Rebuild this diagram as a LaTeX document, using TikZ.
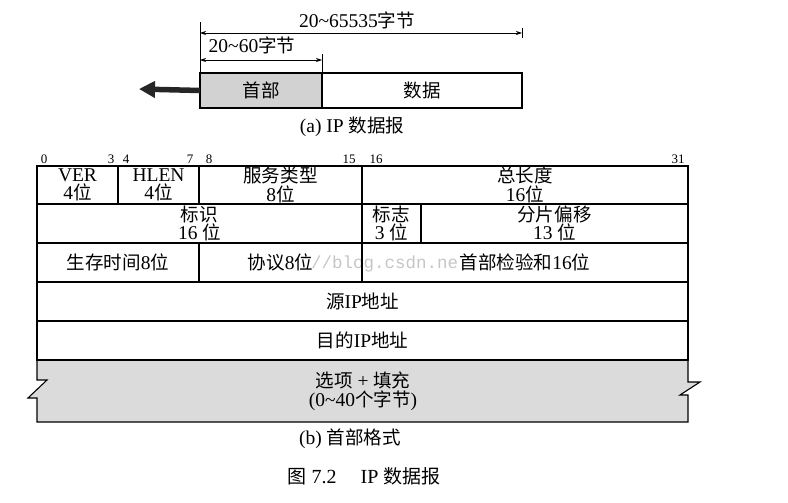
\documentclass[tikz,border=0pt]{standalone}
\usepackage{fontspec}
\setmainfont{Liberation Serif}
\newfontfamily\cjk[Scale=0.95]{Noto Sans CJK SC}
\newfontfamily\wmfont{Liberation Mono}
\usetikzlibrary{arrows.meta}
\newcommand\zhc[1]{{\cjk #1}}
\begin{document}
\begin{tikzpicture}[x=1pt,y=-1pt,
  field/.style={draw, line width=1.1pt, inner sep=0pt, outer sep=0pt, align=center,
    font=\fontsize{19.5}{18.5}\selectfont},
  txt/.style={inner sep=0pt, align=center, font=\fontsize{19.5}{19}\selectfont},
  bitlbl/.style={inner sep=0pt, anchor=base, font=\fontsize{13}{13}\selectfont},
  dim/.style={line width=0.7pt, {Stealth[length=6pt,width=4pt]}-{Stealth[length=6pt,width=4pt]}},
  tick/.style={line width=0.7pt},
  edge/.style={line width=1.1pt}]
\useasboundingbox (0,0) rectangle (788,503);

% ---------- (a) IP datagram ----------
\node[field, fill=gray!35, minimum width=122pt, minimum height=35pt, anchor=north west] (hdr) at (200,73) {\zhc{首部}};
\node[field, minimum width=200pt, minimum height=35pt, anchor=north west] (data) at (322,73) {\zhc{数据}};
\coordinate (arrtip) at (139,89);
\draw[line width=5.5pt, black!85, -{Triangle[length=16pt,width=16pt]}] (hdr.west) -- (arrtip);

\coordinate (tA) at (200,22);
\coordinate (tB1) at (522,28);
\coordinate (tB2) at (522,38);
\coordinate (tC) at (322,54);
\draw[tick] (hdr.north west) -- (tA);
\draw[tick] (tB1) -- (tB2);
\draw[tick] (hdr.north east) -- (tC);
\coordinate (d1a) at (200,33);
\coordinate (d1b) at (522,33);
\coordinate (d2a) at (200,60);
\coordinate (d2b) at (322,60);
\draw[dim] (d1a) -- (d1b);
\draw[dim] (d2a) -- (d2b);
\node[txt] (lenall) at (357,20) {20\textasciitilde 65535\zhc{字节}};
\node[txt] (lenhdr) at (252,45) {20\textasciitilde 60\zhc{字节}};
\node[txt] (capa) at (352,127) {(a) IP \zhc{数据报}};

% ---------- (b) header format ----------
\node[bitlbl] (b0) at (44,163) {0};
\node[bitlbl] (b3) at (111,163) {3};
\node[bitlbl] (b4) at (126,163) {4};
\node[bitlbl] (b7) at (190,163) {7};
\node[bitlbl] (b8) at (209,163) {8};
\node[bitlbl] (b15) at (349,163) {15};
\node[bitlbl] (b16) at (376,163) {16};
\node[bitlbl] (b31) at (678,163) {31};

% watermark (visible part)
\node[inner sep=0pt, anchor=west, text=gray!45, font=\wmfont\fontsize{17.5}{17.5}\selectfont] (wm) at (311,264) {//blog.csdn.ne};

% row 1
\node[field, minimum width=81pt, minimum height=38pt, anchor=north west] (ver) at (37,166) {VER\\4\zhc{位}};
\node[field, minimum width=81pt, minimum height=38pt, anchor=north west] (hlen) at (118,166) {HLEN\\4\zhc{位}};
\node[field, minimum width=163pt, minimum height=38pt, anchor=north west] (tos) at (199,166) {\zhc{服务类型}\\8\zhc{位}};
\node[field, minimum width=326pt, minimum height=38pt, anchor=north west] (tlen) at (362,166) {\zhc{总长度}\\16\zhc{位}};
% row 2
\node[field, minimum width=325pt, minimum height=39pt, anchor=north west] (ident) at (37,204) {\zhc{标识}\\16 \zhc{位}};
\node[field, minimum width=59pt, minimum height=39pt, anchor=north west] (flags) at (362,204) {\zhc{标志}\\3 \zhc{位}};
\node[field, minimum width=267pt, minimum height=39pt, anchor=north west] (frag) at (421,204) {\zhc{分片偏移}\\13 \zhc{位}};
% row 3
\node[field, minimum width=162pt, minimum height=39pt, anchor=north west] (ttl) at (37,243) {\zhc{生存时间}8\zhc{位}};
\node[field, minimum width=163pt, minimum height=39pt, anchor=north west] (proto) at (199,243) {\zhc{协议}8\zhc{位}};
\node[field, minimum width=326pt, minimum height=39pt, anchor=north west] (csum) at (362,243) {\zhc{首部检验和}16\zhc{位}};
% row 4, 5
\node[field, minimum width=651pt, minimum height=39pt, anchor=north west] (src) at (37,282) {\zhc{源}IP\zhc{地址}};
\node[field, minimum width=651pt, minimum height=39pt, anchor=north west] (dst) at (37,321) {\zhc{目的}IP\zhc{地址}};
% row 6: options with break marks
\fill[gray!28] (37,360) -- (688,360) -- (688,382) -- (700,382) -- (680,395) -- (688,395) -- (688,422)
  -- (37,422) -- (37,398) -- (28,398) -- (47,380) -- (37,380) -- cycle;
\draw[edge, line join=miter] (dst.south west) -- (37,380) -- (47,380) -- (28,398) -- (37,398) -- (37,422)
  -- (688,422) -- (688,395) -- (680,395) -- (700,382) -- (688,382) -- (dst.south east);
\draw[edge] (dst.south west) -- (dst.south east);
\node[txt] (opts) at (363,391) {\zhc{选项} + \zhc{填充}\\(0\textasciitilde 40\zhc{个字节})};

\node[txt] (capb) at (350,439) {(b) \zhc{首部格式}};
\node[txt, font=\fontsize{20}{20}\selectfont] (fig) at (364,476) {\zhc{图} 7.2\hspace{1.2em}IP \zhc{数据报}};
\end{tikzpicture}
\end{document}
